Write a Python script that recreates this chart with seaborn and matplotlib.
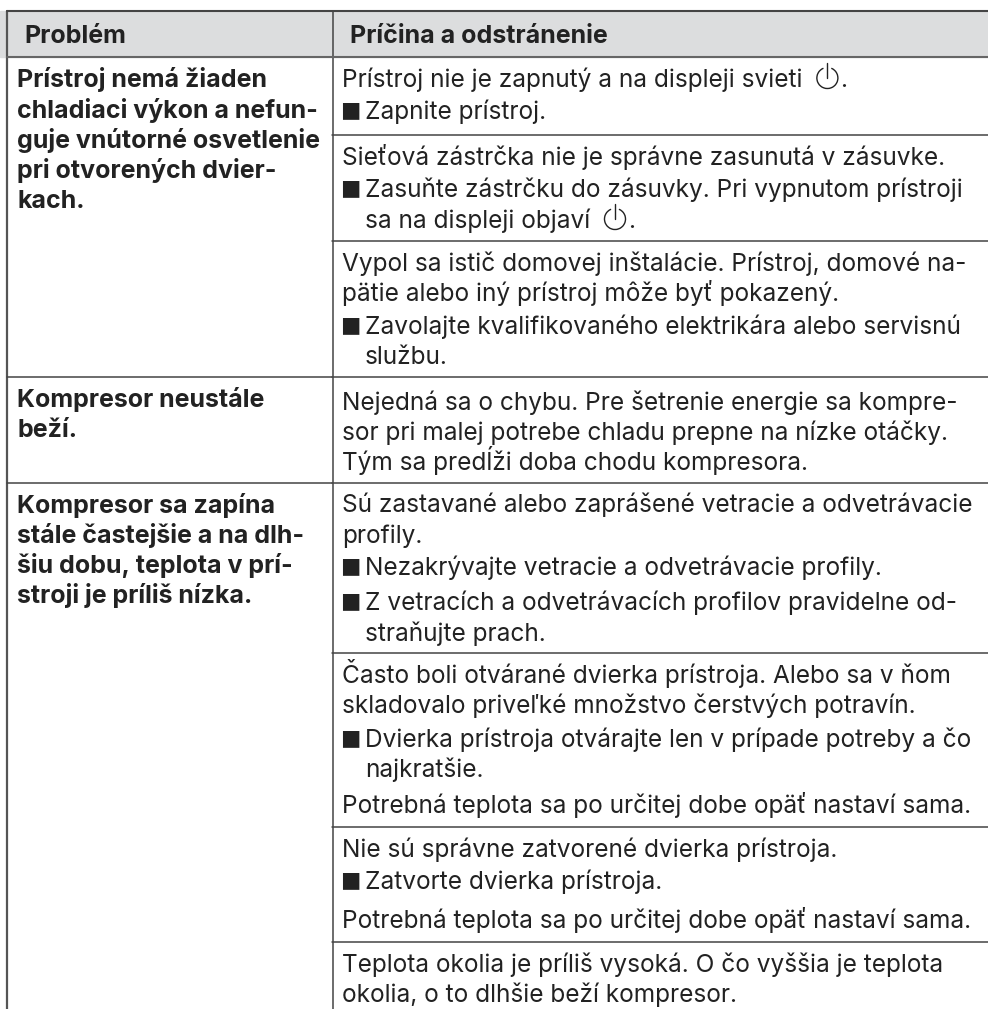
import matplotlib
matplotlib.use("Agg")
import matplotlib.pyplot as plt
from matplotlib.patches import Arc
import seaborn as sns

sns.set_theme(style="white")
plt.rcParams['font.family'] = ['Inter', 'DejaVu Sans']

# Text of the table
header = ["Problém", "Príčina a odstránenie"]

problem_1 = ["Prístroj nemá žiaden", "chladiaci výkon a nefun-", "guje vnútorné osvetlenie",
             "pri otvorených dvier-", "kach."]
problem_2 = ["Kompresor neustále", "beží."]
problem_3 = ["Kompresor sa zapína", "stále častejšie a na dlh-", "šiu dobu, teplota v prí-",
             "stroji je príliš nízka."]

# kind: 0 plain, 1 bullet, 2 continuation of a bullet; @ is the power sign
cause_1 = [(0, "Prístroj nie je zapnutý a na displeji svieti @."), (1, "Zapnite prístroj.")]
cause_2 = [(0, "Sieťová zástrčka nie je správne zasunutá v zásuvke."),
           (1, "Zasuňte zástrčku do zásuvky. Pri vypnutom prístroji"),
           (2, "sa na displeji objaví @.")]
cause_3 = [(0, "Vypol sa istič domovej inštalácie. Prístroj, domové na-"),
           (0, "pätie alebo iný prístroj môže byť pokazený."),
           (1, "Zavolajte kvalifikovaného elektrikára alebo servisnú"),
           (2, "službu.")]
cause_4 = [(0, "Nejedná sa o chybu. Pre šetrenie energie sa kompre-"),
           (0, "sor pri malej potrebe chladu prepne na nízke otáčky."),
           (0, "Tým sa predĺži doba chodu kompresora.")]
cause_5 = [(0, "Sú zastavané alebo zaprášené vetracie a odvetrávacie"),
           (0, "profily."),
           (1, "Nezakrývajte vetracie a odvetrávacie profily."),
           (1, "Z vetracích a odvetrávacích profilov pravidelne od-"),
           (2, "straňujte prach.")]
cause_6 = [(0, "Často boli otvárané dvierka prístroja. Alebo sa v ňom"),
           (0, "skladovalo priveľké množstvo čerstvých potravín."),
           (1, "Dvierka prístroja otvárajte len v prípade potreby a čo"),
           (2, "najkratšie."),
           (0, "Potrebná teplota sa po určitej dobe opäť nastaví sama.")]
cause_7 = [(0, "Nie sú správne zatvorené dvierka prístroja."),
           (1, "Zatvorte dvierka prístroja."),
           (0, "Potrebná teplota sa po určitej dobe opäť nastaví sama.")]
cause_8 = [(0, "Teplota okolia je príliš vysoká. O čo vyššia je teplota"),
           (0, "okolia, o to dlhšie beží kompresor.")]

causes = [cause_1, cause_2, cause_3, cause_4, cause_5, cause_6, cause_7, cause_8]
problems = [problem_1, problem_2, problem_3]

# layout in pixels, measured line by line
cause_base = [[87, 119], [165, 197, 228], [271, 301, 334, 364], [410, 440, 470],
              [512, 543, 575, 610, 641], [683, 713, 747, 777, 813], [857, 889, 928], [972, 1002]]
problem_base = [[87, 118, 148, 178, 208], [407, 437], [513, 543, 573, 603]]
cause_rules = [135, 241, 377, 483, 653, 827, 942]
problem_rules = [377, 483]

INK = "#222222"
RULE = "#444444"
FS = 17.6
FS_BOLD = 18

fig, ax = plt.subplots(figsize=(9.88, 10.09), dpi=100)
fig.subplots_adjust(0, 0, 1, 1)
ax.set_xlim(0, 988)
ax.set_ylim(1009, 0)
ax.axis("off")

# header band and frame
ax.axhspan(11, 57, color="#dcddde", zorder=0)
ax.plot([7, 7], [11, 1009], color="#555555", lw=1.6)
ax.plot([332.5, 332.5], [11, 1009], color=RULE, lw=1.1)
ax.plot([7, 988], [11, 11], color="#444444", lw=1.5)
ax.plot([7, 988], [57, 57], color="#666666", lw=1.5)
ax.text(24, 43, header[0], fontsize=FS_BOLD, fontweight="bold", color=INK)
ax.text(350, 43, header[1], fontsize=FS_BOLD, fontweight="bold", color=INK)

for ry in cause_rules:
    ax.plot([332, 988], [ry, ry], color=RULE, lw=1.1)
for ry in problem_rules:
    ax.plot([7, 332], [ry, ry], color=RULE, lw=1.1)


def power_icon(x, base):
    ax.add_patch(Arc((x, base - 9), 21, 21, theta1=-68, theta2=248, color=INK, lw=1.0))
    ax.plot([x, x], [base - 24, base - 9], color=INK, lw=1.0)


renderer = fig.canvas.get_renderer()
for cell, bases in zip(causes, cause_base):
    for (kind, line), base in zip(cell, bases):
        x = 342
        if kind == 1:
            ax.text(340.5, base - 2.5, "■", fontsize=15.5, color=INK, family="DejaVu Sans")
        if kind in (1, 2):
            x = 365
        parts = line.split("@")
        t = ax.text(x, base, parts[0], fontsize=FS, color=INK)
        if len(parts) > 1:
            end = t.get_window_extent(renderer).x1
            power_icon(end + 18, base)
            ax.text(end + 31, base, parts[1], fontsize=FS, color=INK)

for lines, bases in zip(problems, problem_base):
    for line, base in zip(lines, bases):
        ax.text(17, base, line, fontsize=FS_BOLD, fontweight="bold", color=INK)

fig.savefig("out.png", dpi=100)
